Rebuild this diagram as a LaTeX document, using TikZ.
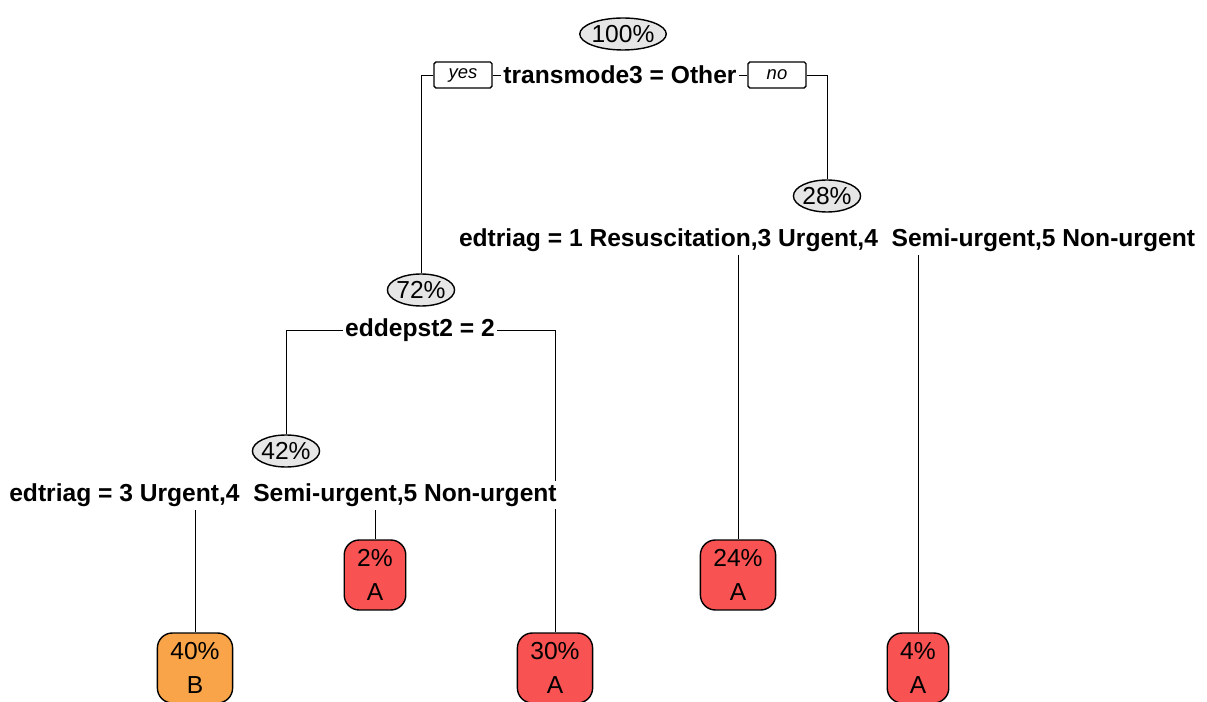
\documentclass[tikz,border=0pt]{standalone}
\usepackage{fontspec}
\setmainfont{Liberation Sans}
\usetikzlibrary{shapes.geometric,backgrounds}
\definecolor{leafred}{HTML}{F85252}
\definecolor{leaforange}{HTML}{F9A448}
\definecolor{nodegray}{HTML}{E6E6E6}

\begin{document}
\begin{tikzpicture}[x=0.02cm,y=-0.02cm,line width=1.1pt,
  pct/.style={ellipse,draw,line width=0.8pt,fill=nodegray,inner sep=-0.5pt,minimum height=0.64cm,font=\fontsize{14}{16}\selectfont},
  rule/.style={fill=white,inner sep=1.5pt,font=\fontsize{14}{16}\selectfont\bfseries},
  tag/.style={draw,fill=white,line width=0.8pt,rounded corners=1pt,minimum width=1.16cm,minimum height=0.52cm,inner sep=0pt,font=\fontsize{10.5}{12}\selectfont\itshape},
  leaf/.style={draw,line width=0.8pt,rounded corners=0.3cm,align=center,minimum height=1.4cm,inner xsep=0.26cm,font=\fontsize{14}{19}\selectfont}]
  \useasboundingbox (0,0) rectangle (1207,702);
  % inner nodes and split rules
  \node[pct] (n100) at (623,34) {100\%};
  \node[rule] (s100) at (620,75) {transmode3 = Other};
  \node[tag] (yes) at (463,75) {yes};
  \node[tag] (no) at (777,75) {no};
  \node[pct] (n28) at (827,196) {28\%};
  \node[rule] (s28) at (827,240) {edtriag = 1 Resuscitation,3 Urgent,4\ \ Semi-urgent,5 Non-urgent};
  \node[pct] (n72) at (421,290) {72\%};
  \node[rule] (s72) at (420,330) {eddepst2 = 2};
  \node[pct] (n42) at (286,451) {42\%};
  \node[rule] (s42) at (283,495) {edtriag = 3 Urgent,4\ \ Semi-urgent,5 Non-urgent};
  % leaves
  \node[leaf,fill=leaforange] (l40) at (195,668) {40\%\\B};
  \node[leaf,fill=leafred] (l2) at (375,575) {2\%\\A};
  \node[leaf,fill=leafred] (l30) at (555,668) {30\%\\A};
  \node[leaf,fill=leafred] (l24) at (738,575) {24\%\\A};
  \node[leaf,fill=leafred] (l4) at (918,668) {4\%\\A};
  \begin{scope}[on background layer]
    \draw (yes.east) -- (no.west);
    \draw (yes.west) -| (n72.north);
    \draw (no.east) -| (n28.north);
    \draw (n42.north) |- (s72.center) -| (l30.north);
    \draw (s42.south -| l40.north) -- (l40.north);
    \draw (s42.south -| l2.north) -- (l2.north);
    \draw (s28.south -| l24.north) -- (l24.north);
    \draw (s28.south -| l4.north) -- (l4.north);
  \end{scope}
\end{tikzpicture}
\end{document}
